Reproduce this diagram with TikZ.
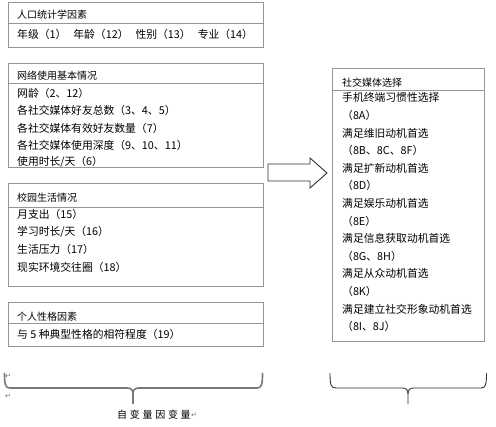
\documentclass[tikz,border=0pt]{standalone}
\usepackage{fontspec}
\setmainfont{Noto Sans CJK SC}
\newfontfamily\symfont{DejaVu Sans}
\definecolor{framegray}{RGB}{150,150,150}
\definecolor{arrowgray}{RGB}{50,50,50}
\definecolor{bracegray}{RGB}{120,120,120}
\definecolor{markgray}{RGB}{110,110,110}
\begin{document}
\begin{tikzpicture}[x=1pt,y=-1pt,
  frame/.style={draw=framegray, line width=1pt},
  head/.style={anchor=west, inner sep=0pt, font=\fontsize{10}{12}\selectfont},
  item/.style={anchor=west, inner sep=0pt, font=\fontsize{10.8}{12}\selectfont},
  retmark/.style={inner sep=0pt, text=markgray, font=\symfont\fontsize{7}{8}\selectfont},
  lbl/.style={inner sep=0pt, font=\fontsize{10}{12}\selectfont}]
\useasboundingbox (0,0) rectangle (496,427);
\fill[white] (0,0) rectangle (496,427);

% Box 1
\draw[frame] (8,3) rectangle (263,48);
\draw[frame] (8,24) -- (263,24);
\node[head] (h1) at (17,15) {人口统计学因素};
\node[item] (i11) at (17,34) {年级（1）\hspace*{7pt}年龄（12）\hspace*{7pt}性别（13）\hspace*{7pt}专业（14）};

% Box 2
\draw[frame] (8,64) rectangle (263,168);
\draw[frame] (8,84) -- (263,84);
\node[head] (h2) at (17,76) {网络使用基本情况};
\node[item] (i21) at (17,93) {网龄（2、12）};
\node[item] (i22) at (17,110.5) {各社交媒体好友总数（3、4、5）};
\node[item] (i23) at (17,128) {各社交媒体有效好友数量（7）};
\node[item] (i24) at (17,145) {各社交媒体使用深度（9、10、11）};
\node[item] (i25) at (17,162) {使用时长/天（6）};

% Box 3
\draw[frame] (8,184) rectangle (263,287);
\draw[frame] (8,208) -- (263,208);
\node[head] (h3) at (17,198) {校园生活情况};
\node[item] (i31) at (17,214) {月支出（15）};
\node[item] (i32) at (17,232) {学习时长/天（16）};
\node[item] (i33) at (17,249.5) {生活压力（17）};
\node[item] (i34) at (17,267) {现实环境交往圈（18）};

% Box 4
\draw[frame] (8,303) rectangle (263,347);
\draw[frame] (8,324) -- (263,324);
\node[head] (h4) at (17,317) {个人性格因素};
\node[item] (i41) at (17,334) {与 5 种典型性格的相符程度（19）};

% Right box
\draw[frame] (332,69) rectangle (484,342);
\draw[frame] (332,91) -- (484,91);
\node[head] (hr) at (342,82.5) {社交媒体选择};
\foreach \t [count=\k from 0] in {手机终端习惯性选择,（8A）,满足维旧动机首选,（8B、8C、8F）,满足扩新动机首选,（8D）,满足娱乐动机首选,（8E）,满足信息获取动机首选,（8G、8H）,满足从众动机首选,（8K）,满足建立社交形象动机首选,（8I、8J）}
  \node[item] (r\k) at (342,97.8+17.6*\k) {\t};

% Block arrow
\draw[arrowgray, line width=0.9pt, fill=white]
  (268,164) -- (310,164) -- (310,158) -- (327,173) -- (310,188) -- (310,181) -- (268,181) -- cycle;

% Left brace
\draw[bracegray, line width=1.6pt]
  (4.5,373) .. controls (4.5,385) and (5.5,388) .. (10,388) -- (127,388)
  .. controls (131.5,388) and (133,390) .. (133,394) -- (133,404);
\draw[bracegray, line width=1.6pt]
  (133,394) .. controls (133,390) and (134.5,388) .. (139,388) -- (257,388)
  .. controls (261.5,388) and (262.5,385) .. (262.5,373);

% Right brace
\draw[arrowgray, line width=0.9pt]
  (330,373) .. controls (330,385) and (331,388) .. (336,388) -- (402,388)
  .. controls (406.5,388) and (408,390) .. (408,394) -- (408,404);
\draw[arrowgray, line width=0.9pt]
  (408,394) .. controls (408,390) and (409.5,388) .. (414,388) -- (481,388)
  .. controls (485.5,388) and (486.5,385) .. (486.5,373);

% Return marks and label
\node[retmark] (m1) at (8,376) {↵};
\node[retmark] (m2) at (8,396) {↵};
\node[lbl, anchor=west] (lab) at (117,415) {自\kern2.7pt 变\kern2.7pt 量\kern2.7pt 因\kern2.7pt 变\kern2.7pt 量};
\node[retmark, anchor=west] (m3) at (lab.east) {↵};
\end{tikzpicture}
\end{document}
